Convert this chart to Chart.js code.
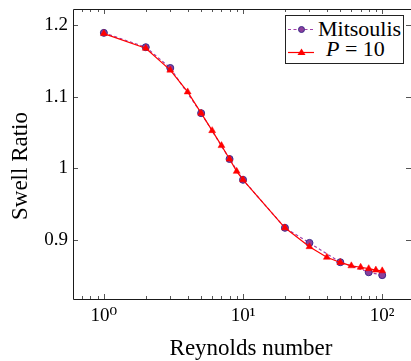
<!DOCTYPE html>
<html>
<head>
<meta charset="utf-8">
<script src="https://cdn.jsdelivr.net/npm/chart.js@4.4.1/dist/chart.umd.min.js"></script>
<style>
  html, body { margin: 0; padding: 0; background: #fff; }
  #wrap { position: relative; width: 411px; height: 361px; overflow: hidden; }
  #legend { position: absolute; left: 285px; top: 15px; width: 119px; height: 49px;
            border: 1px solid #222; background: #fff; box-sizing: border-box;
            font-family: 'Liberation Serif', 'DejaVu Serif', serif; font-size: 22px; color: #000; }
  #legend .txt { position: absolute; line-height: 1; white-space: nowrap; }
  #legend svg { position: absolute; left: 0; top: 0; }
</style>
</head>
<body>
<div id="wrap">
  <canvas id="c" width="411" height="361"></canvas>
  <div id="legend">
    <svg width="40" height="48" viewBox="0 0 40 48">
      <line x1="2" y1="13.5" x2="27" y2="13.5" stroke="#a040a8" stroke-width="1.2" stroke-dasharray="3,2.5"/>
      <circle cx="15.5" cy="13.5" r="3" fill="#8b3f9b" stroke="#3b2a8a" stroke-width="1"/>
      <line x1="2" y1="36.5" x2="28" y2="36.5" stroke="#ff0000" stroke-width="1.2"/>
      <polygon points="15.5,32.5 19.5,39 11.5,39" fill="#ff0000"/>
    </svg>
    <span class="txt" style="left:32px; top:2px;">Mitsoulis</span>
    <span class="txt" style="left:40px; top:22px;"><i>P</i> = 10</span>
  </div>
</div>
<script>
// ---- data ----
const reynoldsMitsoulis = [1, 2, 3, 5, 8, 10, 20, 30, 50, 80, 100];
const swellMitsoulis    = [1.189, 1.169, 1.140, 1.077, 1.013, 0.984, 0.917, 0.896, 0.869, 0.855, 0.851];

const reynoldsP10 = [1, 2, 3, 4, 5, 6, 7, 8, 9, 10, 20, 30, 40, 50, 60, 70, 80, 90, 100];
const swellP10    = [1.188, 1.1675, 1.137, 1.1066, 1.077, 1.0526, 1.0317, 1.013, 0.9958, 0.984,
                     0.917, 0.8907, 0.8759, 0.8687, 0.864, 0.862, 0.860, 0.858, 0.857];

const xTickValues = [1, 10, 100];
const xTickLabels = ['10\u2070', '10\u00B9', '10\u00B2'];
const yTickValues = [0.9, 1, 1.1, 1.2];
const yTickLabels = ['0.9', '1', '1.1', '1.2'];

const xTitle = 'Reynolds number';
const yTitle = 'Swell Ratio';
const seriesNames = ['Mitsoulis', 'P = 10'];

const X_MIN = 0.621, X_MAX = 161;
const Y_MIN = 0.8177, Y_MAX = 1.2223;

const SERIF = "'Liberation Serif', 'DejaVu Serif', serif";

const toPoints = (xs, ys) => xs.map((x, i) => ({ x: x, y: ys[i] }));

// frame, inward ticks and axis titles (pgfplots style)
const framePlugin = {
  id: 'frame',
  afterDraw(chart) {
    const { ctx, chartArea: a, scales } = chart;
    const xs = scales.x, ys = scales.y;
    const W = chart.width;
    ctx.save();
    ctx.strokeStyle = '#555';
    ctx.lineWidth = 1;
    ctx.beginPath();
    xTickValues.forEach(v => {
      const px = Math.round(xs.getPixelForValue(v)) + 0.5;
      ctx.moveTo(px, a.bottom); ctx.lineTo(px, a.bottom - 5);
      ctx.moveTo(px, a.top); ctx.lineTo(px, a.top + 5);
    });
    for (let d = 0.1; d <= 100; d *= 10) {
      for (let m = 2; m <= 9; m++) {
        const v = m * d;
        if (v < X_MIN || v > X_MAX) continue;
        const px = Math.round(xs.getPixelForValue(v)) + 0.5;
        ctx.moveTo(px, a.bottom); ctx.lineTo(px, a.bottom - 3);
        ctx.moveTo(px, a.top); ctx.lineTo(px, a.top + 3);
      }
    }
    yTickValues.forEach(v => {
      const py = Math.round(ys.getPixelForValue(v)) + 0.5;
      ctx.moveTo(a.left, py); ctx.lineTo(a.left + 5, py);
      ctx.moveTo(W, py); ctx.lineTo(W - 5, py);
    });
    ctx.stroke();
    // frame: left, top, bottom (right edge lies at the canvas border)
    ctx.strokeStyle = '#1a1a1a';
    ctx.lineWidth = 1;
    const L = Math.round(a.left) + 0.5, T = Math.round(a.top) + 0.5, B = Math.round(a.bottom) + 0.5;
    ctx.beginPath();
    ctx.moveTo(W, T); ctx.lineTo(L, T); ctx.lineTo(L, B); ctx.lineTo(W, B);
    ctx.stroke();
    // axis titles
    ctx.fillStyle = '#000';
    ctx.font = '23px ' + SERIF;
    ctx.textAlign = 'center';
    ctx.textBaseline = 'alphabetic';
    ctx.fillText(xTitle, 251, 355);
    ctx.translate(27, 166);
    ctx.rotate(-Math.PI / 2);
    ctx.fillText(yTitle, 0, 0);
    ctx.restore();
  }
};

new Chart(document.getElementById('c'), {
  type: 'line',
  data: {
    datasets: [
      {
        label: seriesNames[0],
        data: toPoints(reynoldsMitsoulis, swellMitsoulis),
        borderColor: '#a040a8',
        borderWidth: 1.2,
        borderDash: [3, 2.5],
        pointStyle: 'circle',
        pointRadius: 3.5,
        pointBackgroundColor: '#8b3f9b',
        pointBorderColor: '#3b2a8a',
        pointBorderWidth: 1,
        tension: 0,
        order: 1
      },
      {
        label: seriesNames[1],
        data: toPoints(reynoldsP10, swellP10),
        borderColor: '#ff0000',
        borderWidth: 1.2,
        pointStyle: 'triangle',
        pointRadius: 4,
        pointBackgroundColor: '#ff0000',
        pointBorderColor: '#ff0000',
        pointBorderWidth: 0.5,
        tension: 0,
        order: 0
      }
    ]
  },
  options: {
    responsive: false,
    animation: false,
    events: [],
    layout: { autoPadding: false, padding: { top: 9, right: 0, left: 0, bottom: 0 } },
    plugins: { legend: { display: false }, tooltip: { enabled: false } },
    scales: {
      x: {
        type: 'logarithmic',
        min: X_MIN, max: X_MAX,
        afterBuildTicks: s => { s.ticks = xTickValues.map(v => ({ value: v })); },
        afterFit: s => { s.height = 62; s.paddingLeft = 0; s.paddingRight = 0; },
        ticks: {
          autoSkip: false, maxRotation: 0, padding: 6, color: '#000',
          font: { family: SERIF, size: 19 },
          callback: v => xTickLabels[xTickValues.indexOf(v)]
        },
        grid: { display: false, drawTicks: false },
        border: { display: false }
      },
      y: {
        type: 'linear',
        min: Y_MIN, max: Y_MAX,
        afterBuildTicks: s => { s.ticks = yTickValues.map(v => ({ value: v })); },
        afterFit: s => { s.width = 73; s.paddingTop = 0; s.paddingBottom = 0; },
        ticks: {
          autoSkip: false, padding: 5, color: '#000',
          font: { family: SERIF, size: 19 },
          callback: v => yTickLabels[yTickValues.indexOf(v)]
        },
        grid: { display: false, drawTicks: false },
        border: { display: false }
      }
    }
  },
  plugins: [framePlugin]
});
</script>
</body>
</html>
